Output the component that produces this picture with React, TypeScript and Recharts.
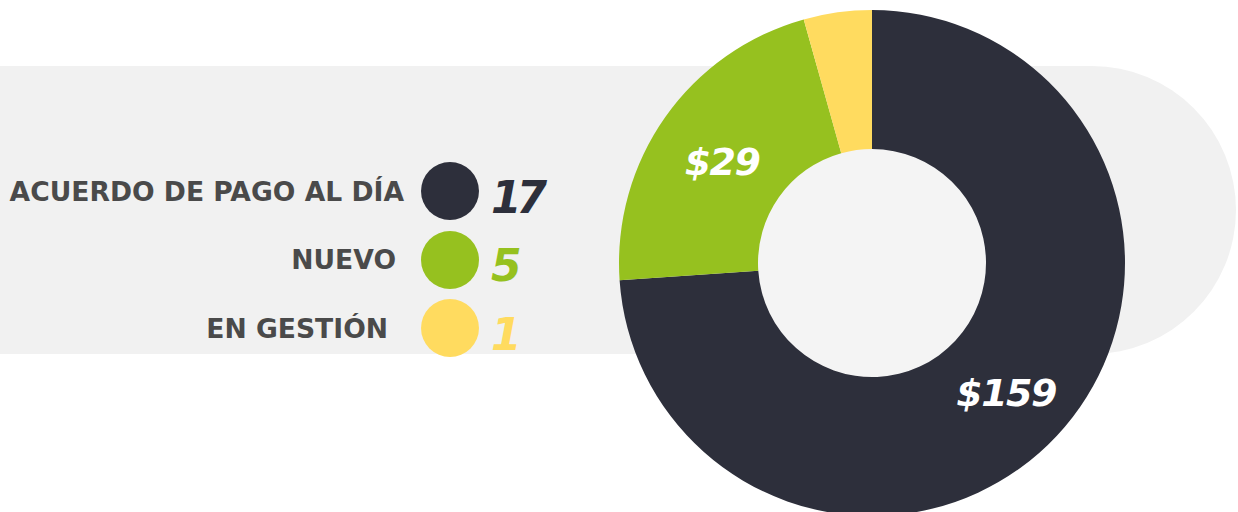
import React from 'react';
import { PieChart, Pie, Cell } from 'recharts';

const categories = ['ACUERDO DE PAGO AL DÍA', 'NUEVO', 'EN GESTIÓN'];
const counts = [17, 5, 1];
const amounts: (number | null)[] = [159, 29, null];
const COLORS = ['#2d2f3b', '#96c11f', '#ffdb5f'];

const FONT = '"DejaVu Sans", sans-serif';

const data = categories.map((name, i) => ({ name, value: counts[i], amount: amounts[i] }));

const RAD = Math.PI / 180;

function renderLabel(props: any) {
  const { cx, cy, midAngle, innerRadius, outerRadius, index } = props;
  const amount = amounts[index];
  if (amount == null) return null;
  const r = (innerRadius + outerRadius) / 2;
  const x = cx + r * Math.cos(-midAngle * RAD);
  const y = cy + r * Math.sin(-midAngle * RAD);
  return (
    <text
      x={x}
      y={y + 5}
      fill="#ffffff"
      textAnchor="middle"
      dominantBaseline="central"
      style={{ fontFamily: FONT, fontWeight: 700, fontStyle: 'italic', fontSize: 38, letterSpacing: -1.5 }}
    >
      {`$${amount}`}
    </text>
  );
}

export default function App() {
  return (
    <div style={{ position: 'fixed', top: 0, left: 0, width: 1238, height: 512, overflow: 'hidden', background: '#fff' }}>
      {/* gray band behind everything */}
      <div
        style={{
          position: 'absolute',
          left: 0,
          top: 66,
          width: 1236,
          height: 288,
          background: '#f1f1f1',
          borderRadius: '0 144px 144px 0',
        }}
      />

      <div style={{ position: 'absolute', left: 0, top: 0 }}>
        <PieChart width={1238} height={512} margin={{ top: 0, right: 0, bottom: 0, left: 0 }}>
          <Pie
            data={[{ value: 1 }]}
            dataKey="value"
            cx={872}
            cy={263}
            outerRadius={115}
            fill="#f4f4f4"
            stroke="none"
            isAnimationActive={false}
          />
          <Pie
            data={data}
            dataKey="value"
            cx={872}
            cy={263}
            innerRadius={114}
            outerRadius={253}
            startAngle={90}
            endAngle={-270}
            stroke="none"
            label={renderLabel}
            labelLine={false}
            isAnimationActive={false}
          >
            {data.map((entry, index) => (
              <Cell key={`cell-${index}`} fill={COLORS[index % COLORS.length]} />
            ))}
          </Pie>
        </PieChart>
      </div>

      {/* legend */}
      <div style={{ position: 'absolute', left: 0, top: 157 }}>
        {data.map((d, i) => (
          <div key={d.name} style={{ display: 'flex', alignItems: 'center', height: 68.5 }}>
            <div
              style={{
                width: 404,
                paddingRight: i * 8,
                boxSizing: 'border-box',
                textAlign: 'right',
                fontFamily: FONT,
                fontWeight: 700,
                fontSize: 26.6,
                color: '#4a4a4a',
                whiteSpace: 'nowrap',
              }}
            >
              {d.name}
            </div>
            <div
              style={{
                width: 58,
                height: 58,
                borderRadius: '50%',
                background: COLORS[i],
                marginLeft: 17,
                flexShrink: 0,
              }}
            />
            <div
              style={{
                marginLeft: 12,
                position: 'relative',
                top: 6,
                fontFamily: FONT,
                fontWeight: 700,
                fontStyle: 'italic',
                fontSize: 44,
                letterSpacing: -5,
                color: COLORS[i],
              }}
            >
              {d.value}
            </div>
          </div>
        ))}
      </div>
    </div>
  );
}
